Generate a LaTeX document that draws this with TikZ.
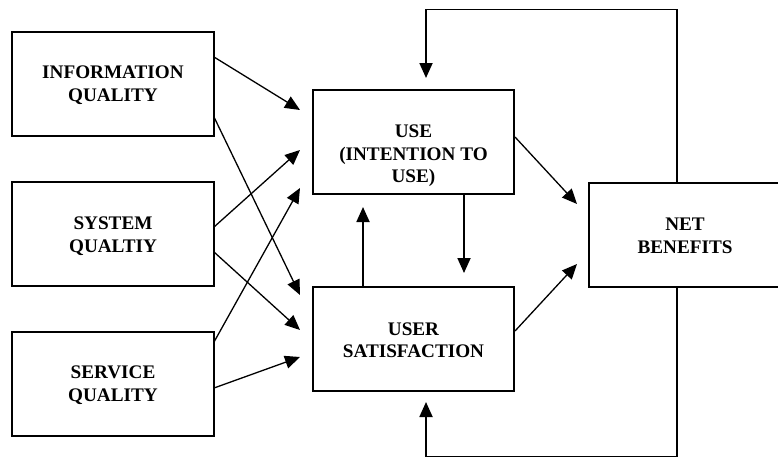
\documentclass[tikz,border=0pt]{standalone}
\usepackage{fontspec}
\setmainfont{Liberation Serif}
\usetikzlibrary{arrows.meta}
\begin{document}
\begin{tikzpicture}[x=1pt,y=-1pt,
  box/.style={draw, line width=1.7pt, minimum width=202pt, minimum height=104pt, inner sep=0pt},
  lbl/.style={align=center, inner sep=0pt, font=\fontsize{19.2}{22.5}\selectfont\bfseries},
  conn/.style={line width=1.3pt, -{Triangle[length=15pt,width=13pt]}},
  fb/.style={line width=1.8pt, -{Triangle[length=15pt,width=13pt]}}
]
\clip (0,0) rectangle (778,458);
\fill[white] (0,0) rectangle (778,458);
% boxes
\node[box] (iq) at (113,84) {};
\node[lbl] (iqt) at (113,85) {INFORMATION\\QUALITY};
\node[box] (sq) at (113,234) {};
\node[lbl] (sqt) at (113,236) {SYSTEM\\QUALTIY};
\node[box] (svq) at (113,384) {};
\node[lbl] (svqt) at (113,385) {SERVICE\\QUALITY};
\node[box, minimum width=201pt] (use) at (413.5,142) {};
\node[lbl] (uset) at (413.5,156) {USE\\(INTENTION TO\\USE)};
\node[box, minimum width=201pt] (uss) at (413.5,339) {};
\node[lbl] (usst) at (413.5,340) {USER\\SATISFACTION};
\node[box, minimum width=192pt] (nb) at (685,235) {};
\node[lbl] (nbt) at (685,236) {NET\\BENEFITS};
% endpoints
\coordinate (iq1) at (214,57);
\coordinate (iq2) at (214,117);
\coordinate (sq1) at (214,227);
\coordinate (sq2) at (214,252);
\coordinate (sv1) at (214,342);
\coordinate (sv2) at (214,388);
\coordinate (u1) at (300,110);
\coordinate (u2) at (300,150);
\coordinate (u3) at (300,188);
\coordinate (s1) at (300,295);
\coordinate (s2) at (300,330);
\coordinate (s3) at (300,357);
\coordinate (uo) at (515,137);
\coordinate (so) at (515,331);
\coordinate (n1) at (577,204);
\coordinate (n2) at (577,264);
\coordinate (ud) at (464,194);
\coordinate (udt) at (464,273);
\coordinate (su) at (363,287);
\coordinate (sut) at (363,207);
\coordinate (nbt1) at (677,183);
\coordinate (nbb1) at (677,287);
\coordinate (ft) at (426,78);
\coordinate (fb) at (426,402);
% connectors
\draw[conn] (iq1) -- (u1);
\draw[conn] (iq2) -- (s1);
\draw[conn] (sq1) -- (u2);
\draw[conn] (sq2) -- (s2);
\draw[conn] (sv1) -- (u3);
\draw[conn] (sv2) -- (s3);
\draw[conn] (uo) -- (n1);
\draw[conn] (so) -- (n2);
\draw[fb] (ud) -- (udt);
\draw[fb] (su) -- (sut);
\draw[fb] (nbt1) -- (677,9.5) -- (426,9.5) -- (ft);
\draw[fb] (nbb1) -- (677,456.5) -- (426,456.5) -- (fb);
\end{tikzpicture}
\end{document}
